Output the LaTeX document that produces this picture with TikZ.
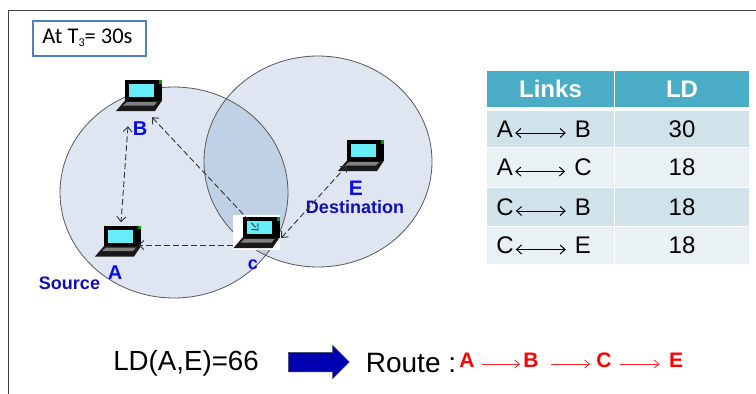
\documentclass[tikz,border=0pt]{standalone}
\usepackage{fontspec}
\setmainfont{Liberation Sans}
\newfontfamily\calibrifont{Carlito}
\usetikzlibrary{shapes.arrows,arrows.meta}
\definecolor{circlefill}{HTML}{DFE6F1}
\definecolor{lensfill}{HTML}{C0D1E6}
\definecolor{headfill}{HTML}{4BACC6}
\definecolor{rowdark}{HTML}{D0E3EA}
\definecolor{rowlight}{HTML}{E9F1F5}
\definecolor{labelblue}{HTML}{0A0AE6}
\definecolor{darkblue}{HTML}{1010B4}
\definecolor{boxblue}{HTML}{4F81BD}
\definecolor{screencyan}{HTML}{66EEF8}
\tikzset{
  lap/.style={minimum width=46pt,minimum height=31pt,inner sep=0pt},
  lbl/.style={text=labelblue,inner sep=0pt,font=\fontsize{20}{20}\selectfont\bfseries},
  tag/.style={text=darkblue,inner sep=0pt,font=\fontsize{18}{18}\selectfont\bfseries},
  headcell/.style={fill=headfill,text=white,minimum height=36pt,inner sep=0pt,font=\fontsize{24}{24}\selectfont\bfseries},
  ltr/.style={inner sep=0pt,font=\fontsize{24}{24}\selectfont},
  link/.style={dash pattern=on 6pt off 3pt,draw=black!80,line width=0.9pt,-{Straight Barb[length=5pt,width=9pt]}},
  linkboth/.style={link,{Straight Barb[length=5pt,width=9pt]}-{Straight Barb[length=5pt,width=9pt]}},
  dbl/.style={{Straight Barb[length=5pt,width=9pt]}-{Straight Barb[length=5pt,width=9pt]},line width=1pt},
  redltr/.style={text=red,inner sep=0pt,font=\fontsize{21}{21}\selectfont\bfseries},
  redarr/.style={-{Straight Barb[length=5pt,width=8pt]},draw=red!85,line width=0.8pt},
  pics/laptop/.style={code={
    \fill[black!90] (-23,15.5) -- (-14,5) -- (23,5) -- (16,15.5) -- cycle;
    \fill[black] (-14,-15.5) rectangle (23,5);
    \fill[black!50] (-16,10) -- (-12,6.5) -- (18,6.5) -- (15,10) -- cycle;
    \fill[screencyan] (-10,-11.5) rectangle (15,1.5);
    \fill[green!60!black] (20,-15.5) rectangle (23,-12);
  }},
}
\begin{document}
\begin{tikzpicture}[x=1pt,y=-1pt]
  \useasboundingbox (0,0) rectangle (756,394);
  \draw[black!75,line width=1pt] (8,394) -- (8,10) -- (756,10);
  % circles
  \fill[circlefill] (174,192.5) ellipse (114 and 105.5);
  \fill[circlefill] (318,161.5) ellipse (114 and 105.5);
  \begin{scope}
    \clip (174,192.5) ellipse (114 and 105.5);
    \fill[lensfill] (318,161.5) ellipse (114 and 105.5);
  \end{scope}
  \draw[black!65,line width=0.8pt] (174,192.5) ellipse (114 and 105.5);
  \draw[black!65,line width=0.8pt] (318,161.5) ellipse (114 and 105.5);
  % time box
  \node[draw=boxblue,line width=2pt,minimum width=113pt,minimum height=35pt,inner sep=0pt,
    font=\calibrifont\fontsize{22.5}{22.5}\selectfont] (tbox) at (89,38) {\hspace{-3pt}At T\raisebox{-3pt}{\fontsize{12}{12}\selectfont 3}= 30s};
  % laptops
  \node[lap] (lapB) at (139,95.5) {};
  \node[lap] (lapA) at (118,241) {};
  \node[lap,fill=white,minimum width=47pt,minimum height=35pt] (lapC) at (256.5,232.5) {};
  \node[lap] (lapE) at (361,155.5) {};
  \pic at (lapB) {laptop};
  \pic at (lapA) {laptop};
  \pic at (lapC) {laptop};
  \pic at (lapE) {laptop};
  % labels
  \node[lbl] (labB) at (140,129) {B};
  \node[lbl] (labA) at (115,273) {A};
  \node[lbl,font=\fontsize{18}{18}\selectfont\bfseries] (labC) at (253,265) {c};
  \node[lbl,font=\fontsize{21}{21}\selectfont\bfseries] (labE) at (356,188) {E};
  \node[tag] (src) at (69.5,283) {Source};
  \node[tag] (dst) at (355,207) {Destination};
  % links
  \draw[linkboth] ([shift={(-11,15)}]lapB.south) -- ([shift={(3,-3)}]lapA.north);
  \draw[linkboth] ([shift={(13,6)}]lapB.south) -- ([shift={(2,-2)}]lapC.center);
  \draw[link] ([shift={(0,12.5)}]lapC.west) -- ([shift={(-3,4)}]lapA.east);
  \draw[linkboth] ([shift={(1,5.5)}]lapC.east) -- ([shift={(-14,10)}]lapE.center);
  % table
  \node[headcell,minimum width=127pt] (h1) at (550.5,89) {Links};
  \node[headcell,minimum width=134pt] (h2) at (682,89) {LD};
  \foreach \y/\h/\c/\l/\r/\v [count=\i] in {129/36/rowdark/A/B/30,167.5/39/rowlight/A/C/18,207/38/rowdark/C/B/18,245.5/37/rowlight/C/E/18}{
    \node[fill=\c,minimum width=127pt,minimum height=\h pt,inner sep=0pt] (l\i) at (550.5,\y) {};
    \node[fill=\c,minimum width=134pt,minimum height=\h pt,inner sep=0pt] (v\i) at (682,\y) {\fontsize{24}{24}\selectfont\v};
    \node[ltr] (a\i) at (505,\y) {\l};
    \node[ltr] (b\i) at (583,\y) {\r};
    \draw[dbl] ([shift={(2,4)}]a\i.east) -- ([shift={(-9,4)}]b\i.west);
  }
  % bottom line
  \node[inner sep=0pt,font=\fontsize{27.7}{27.7}\selectfont] (ld) at (186,363) {LD(A,E)=66};
  \node[single arrow,draw=black!70,fill=blue!70!black,minimum height=61pt,minimum width=33pt,
    single arrow head extend=7pt,single arrow head indent=0pt,inner sep=0pt,line width=0.5pt] (big) at (314,362) {\rule{0pt}{19pt}};
  \node[inner sep=0pt,font=\fontsize{28}{28}\selectfont] (route) at (411,363) {Route :};
  \node[redltr] (rA) at (467,360) {A};
  \node[redltr] (rB) at (531,360) {B};
  \node[redltr] (rC) at (604,360) {C};
  \node[redltr] (rE) at (676,360) {E};
  \draw[redarr] ([shift={(7,4)}]rA.east) -- ([shift={(-3,4)}]rB.west);
  \draw[redarr] ([shift={(12,4)}]rB.east) -- ([shift={(-6,4)}]rC.west);
  \draw[redarr] ([shift={(8,4)}]rC.east) -- ([shift={(-9,4)}]rE.west);
\end{tikzpicture}
\end{document}
